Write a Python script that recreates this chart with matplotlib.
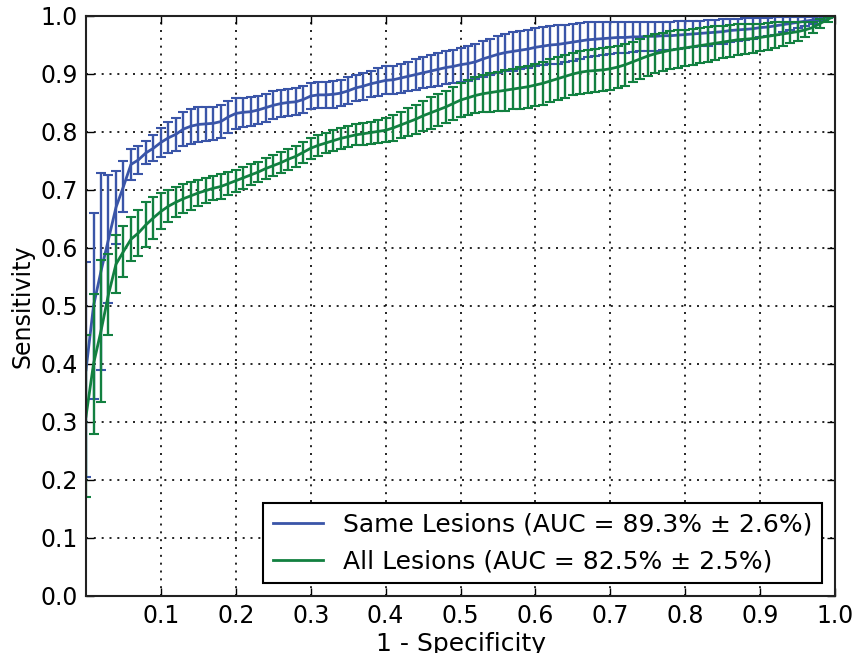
import matplotlib
matplotlib.use("Agg")
import matplotlib.pyplot as plt
import numpy as np

# false positive rate grid (1 - specificity)
fpr = [round(0.01 * i, 2) for i in range(101)]

same_mean = [
    0.390, 0.500, 0.560, 0.615, 0.670, 0.706, 0.744, 0.752, 0.764, 0.772,
    0.782, 0.790, 0.796, 0.805, 0.810, 0.813, 0.814, 0.815, 0.818, 0.826,
    0.832, 0.834, 0.835, 0.838, 0.842, 0.846, 0.849, 0.851, 0.852, 0.856,
    0.862, 0.864, 0.864, 0.865, 0.867, 0.871, 0.876, 0.879, 0.883, 0.886,
    0.889, 0.890, 0.893, 0.896, 0.899, 0.902, 0.905, 0.908, 0.911, 0.913,
    0.916, 0.918, 0.921, 0.926, 0.930, 0.934, 0.937, 0.939, 0.941, 0.943,
    0.946, 0.948, 0.950, 0.951, 0.953, 0.955, 0.957, 0.959, 0.960, 0.961,
    0.962, 0.963, 0.963, 0.964, 0.964, 0.965, 0.965, 0.966, 0.966, 0.967,
    0.968, 0.969, 0.970, 0.971, 0.972, 0.973, 0.975, 0.976, 0.977, 0.978,
    0.980, 0.981, 0.983, 0.985, 0.987, 0.989, 0.991, 0.993, 0.996, 0.998,
    1.000,
]
same_err = [
    0.185, 0.160, 0.170, 0.110, 0.063, 0.044, 0.027, 0.024, 0.020, 0.022,
    0.025, 0.027, 0.028, 0.030, 0.030, 0.030, 0.029, 0.028, 0.028, 0.027,
    0.026, 0.025, 0.025, 0.024, 0.024, 0.024, 0.023, 0.023, 0.023, 0.023,
    0.023, 0.023, 0.023, 0.023, 0.023, 0.023, 0.023, 0.023, 0.023, 0.024,
    0.024, 0.024, 0.025, 0.025, 0.026, 0.027, 0.027, 0.028, 0.028, 0.029,
    0.029, 0.030, 0.030, 0.031, 0.031, 0.032, 0.032, 0.033, 0.033, 0.033,
    0.033, 0.033, 0.033, 0.033, 0.032, 0.032, 0.031, 0.030, 0.029, 0.028,
    0.027, 0.027, 0.026, 0.026, 0.025, 0.025, 0.025, 0.024, 0.024, 0.024,
    0.023, 0.023, 0.022, 0.022, 0.021, 0.021, 0.020, 0.019, 0.019, 0.018,
    0.017, 0.016, 0.015, 0.013, 0.012, 0.010, 0.008, 0.006, 0.004, 0.002,
    0.000,
]

all_mean = [
    0.310, 0.400, 0.457, 0.520, 0.572, 0.594, 0.615, 0.626, 0.640, 0.652,
    0.663, 0.672, 0.679, 0.685, 0.690, 0.695, 0.699, 0.703, 0.706, 0.711,
    0.716, 0.721, 0.726, 0.731, 0.737, 0.742, 0.747, 0.753, 0.758, 0.765,
    0.772, 0.777, 0.781, 0.785, 0.789, 0.792, 0.795, 0.797, 0.799, 0.801,
    0.803, 0.807, 0.812, 0.817, 0.822, 0.828, 0.833, 0.838, 0.843, 0.849,
    0.855, 0.859, 0.863, 0.866, 0.868, 0.870, 0.872, 0.874, 0.876, 0.878,
    0.881, 0.884, 0.888, 0.892, 0.896, 0.900, 0.903, 0.905, 0.906, 0.907,
    0.909, 0.912, 0.916, 0.921, 0.926, 0.931, 0.935, 0.938, 0.941, 0.943,
    0.945, 0.947, 0.949, 0.951, 0.953, 0.955, 0.957, 0.959, 0.960, 0.961,
    0.963, 0.965, 0.967, 0.969, 0.971, 0.973, 0.976, 0.980, 0.987, 0.994,
    1.000,
]
all_err = [
    0.140, 0.120, 0.123, 0.070, 0.050, 0.044, 0.038, 0.040, 0.039, 0.036,
    0.031, 0.028, 0.026, 0.025, 0.024, 0.023, 0.022, 0.021, 0.021, 0.020,
    0.019, 0.019, 0.018, 0.018, 0.018, 0.018, 0.018, 0.018, 0.018, 0.018,
    0.018, 0.018, 0.018, 0.018, 0.018, 0.018, 0.018, 0.019, 0.019, 0.020,
    0.021, 0.022, 0.023, 0.024, 0.025, 0.026, 0.027, 0.027, 0.028, 0.029,
    0.030, 0.030, 0.031, 0.032, 0.033, 0.034, 0.035, 0.035, 0.036, 0.036,
    0.037, 0.037, 0.037, 0.037, 0.037, 0.037, 0.037, 0.037, 0.037, 0.037,
    0.037, 0.036, 0.036, 0.035, 0.035, 0.034, 0.034, 0.033, 0.033, 0.032,
    0.031, 0.031, 0.030, 0.030, 0.029, 0.028, 0.028, 0.027, 0.026, 0.025,
    0.024, 0.023, 0.022, 0.020, 0.018, 0.016, 0.013, 0.010, 0.007, 0.004,
    0.000,
]

labels = [
    u"Same Lesions (AUC = 89.3% \u00b1 2.6%)",
    u"All Lesions (AUC = 82.5% \u00b1 2.5%)",
]
colors = ["#3a55a8", "#128040"]

fig = plt.figure(figsize=(8.61, 6.53), dpi=100)
ax = fig.add_axes([0.0999, 0.0873, 0.8699, 0.8882])

series = [(same_mean, same_err), (all_mean, all_err)]
for (mean, err), label, color in zip(series, labels, colors):
    ax.errorbar(fpr, mean, yerr=err, color=color, ecolor=color,
                elinewidth=1.7, capsize=3.6, capthick=1.5, lw=0)
    ax.plot(fpr, mean, color=color, lw=2, label=label)

ax.set_xlim(0, 1)
ax.set_ylim(0, 1)
ax.set_xticks(np.arange(0.1, 1.01, 0.1))
ax.set_yticks(np.arange(0.0, 1.01, 0.1))
ax.set_xticklabels(["%.1f" % v for v in np.arange(0.1, 1.01, 0.1)])
ax.set_yticklabels(["%.1f" % v for v in np.arange(0.0, 1.01, 0.1)])
ax.tick_params(direction="in", top=True, right=True, labelsize=17,
               length=6, width=1, pad=6)
ax.grid(True, color="black", linestyle=(0, (1.2, 3.5)), linewidth=1.2)
for sp in ax.spines.values():
    sp.set_linewidth(1.5)
    sp.set_color("#222222")

ax.set_xlabel("1 - Specificity", fontsize=18, labelpad=3)
ax.set_ylabel("Sensitivity", fontsize=17)

leg = ax.legend(loc="lower right", fontsize=18, fancybox=False,
                framealpha=1, edgecolor="black", handlelength=2.0,
                handletextpad=0.8, borderaxespad=0.5)
leg.get_frame().set_linewidth(1.5)

fig.savefig("out.png", dpi=100)
